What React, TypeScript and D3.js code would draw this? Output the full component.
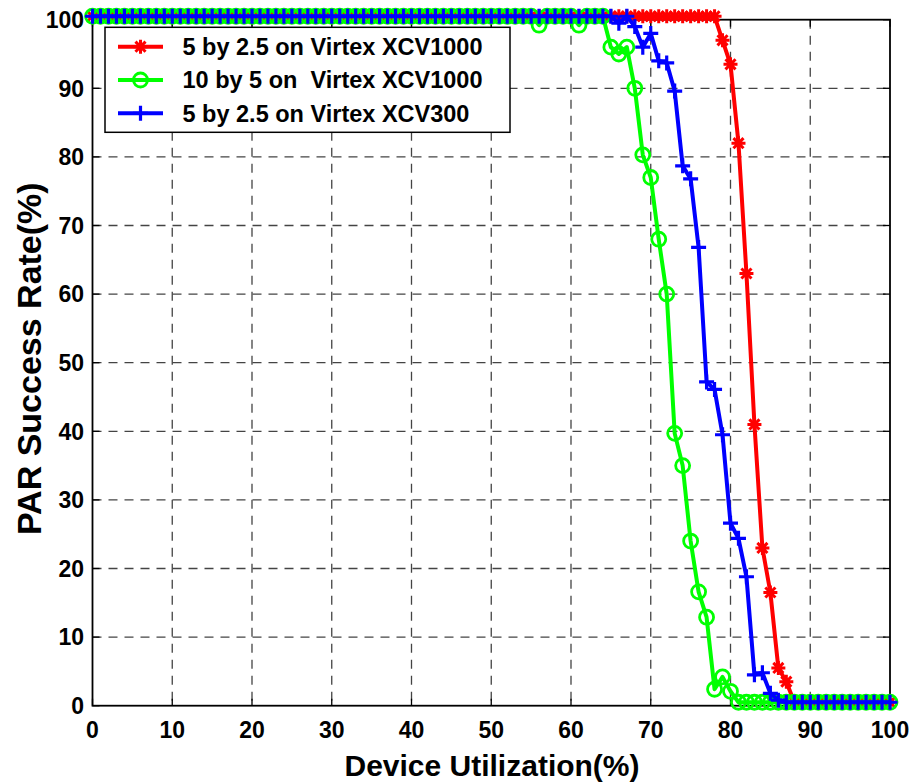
import React from "react";
import * as d3 from "d3";

const W = 917;
const H = 784;

const xTicks = [0, 10, 20, 30, 40, 50, 60, 70, 80, 90, 100];
const yTicks = [0, 10, 20, 30, 40, 50, 60, 70, 80, 90, 100];

// utilization 0..100 step 1
const utilization = d3.range(0, 101);

// red: 5 by 2.5 on Virtex XCV1000 (values 79..87)
const redDrop = [97, 93.5, 82, 63, 41, 23, 16.5, 5.5, 3.5];
// green: 10 by 5 on Virtex XCV1000 (values 65..80)
const greenDrop = [96, 95, 96, 90, 80.3, 77, 68, 60, 39.7, 35, 24, 16.6, 12.9, 2.4, 4.2, 2.1];
// blue: 5 by 2.5 on Virtex XCV300 (values 66..86)
const blueDrop = [99.5, 100.5, 99, 96, 98, 94, 93.7, 89.6, 78.7, 76.8, 66.8, 47.2, 46.1, 39.5, 26.6, 24.4, 18.8, 4.5, 4.8, 1.8, 0.8];

const TOP = 100.5;
const BOT = 0.5;

const redValues = utilization.map((u) =>
  u < 79 ? TOP : u <= 87 ? redDrop[u - 79] : BOT
);
const greenValues = utilization.map((u) => {
  if (u === 56 || u === 61) return 99.2;
  if (u < 65) return TOP;
  if (u <= 80) return greenDrop[u - 65];
  return BOT;
});
const blueValues = utilization.map((u) =>
  u < 66 ? TOP : u <= 86 ? blueDrop[u - 66] : BOT
);

const seriesNames = [
  "5 by 2.5 on Virtex XCV1000",
  "10 by 5 on\u00A0 Virtex XCV1000",
  "5 by 2.5 on Virtex XCV300",
];
const seriesColors = ["#ff0000", "#00ff00", "#0000ff"];
const seriesMarkers = ["asterisk", "circle", "plus"];
const seriesValues = [redValues, greenValues, blueValues];

const M = { left: 92.5, right: 890, top: 19.7, bottom: 705.7 };

function Marker({ type, x, y, color }: { type: string; x: number; y: number; color: string }) {
  if (type === "circle") {
    return <circle cx={x} cy={y} r={7} fill="none" stroke={color} strokeWidth={2.8} />;
  }
  if (type === "plus") {
    const s = 7.5;
    return (
      <path
        d={`M${x - s},${y}H${x + s}M${x},${y - s}V${y + s}`}
        stroke={color}
        strokeWidth={3.2}
        fill="none"
      />
    );
  }
  const s = 7;
  const d2 = s * 0.72;
  return (
    <path
      d={`M${x - s},${y}H${x + s}M${x},${y - s}V${y + s}M${x - d2},${y - d2}L${x + d2},${y + d2}M${x - d2},${y + d2}L${x + d2},${y - d2}`}
      stroke={color}
      strokeWidth={3}
      fill="none"
    />
  );
}

export default function App() {
  const x = d3.scaleLinear().domain([0, 100]).range([M.left, M.right]);
  const y = d3.scaleLinear().domain([0, 100]).range([M.bottom, M.top]);
  const line = d3
    .line<[number, number]>()
    .x((d) => x(d[0]))
    .y((d) => y(d[1]));

  const font = "'Liberation Sans', Arial, sans-serif";

  return (
    <svg width={W} height={H} style={{ position: "absolute", left: 0, top: 0, background: "#fff" }}>
      <rect x={0} y={0} width={W} height={H} fill="#fff" />
      {/* grid */}
      {xTicks.filter((t) => t > 0 && t < 100).map((t) => (
        <line key={"gx" + t} x1={x(t)} x2={x(t)} y1={M.top} y2={M.bottom}
          stroke="#444" strokeWidth={1.3} strokeDasharray="9,7" />
      ))}
      {yTicks.filter((t) => t > 0 && t < 100).map((t) => (
        <line key={"gy" + t} y1={y(t)} y2={y(t)} x1={M.left} x2={M.right}
          stroke="#444" strokeWidth={1.3} strokeDasharray="9,7" />
      ))}
      {/* ticks */}
      {xTicks.map((t) => (
        <g key={"tx" + t}>
          <line x1={x(t)} x2={x(t)} y1={M.bottom} y2={M.bottom - 7} stroke="#000" strokeWidth={1.3} />
          <line x1={x(t)} x2={x(t)} y1={M.top} y2={M.top + 7} stroke="#000" strokeWidth={1.3} />
          <text x={x(t)} y={738} textAnchor="middle" fontFamily={font} fontWeight="bold" fontSize={23}>
            {t}
          </text>
        </g>
      ))}
      {yTicks.map((t) => (
        <g key={"ty" + t}>
          <line y1={y(t)} y2={y(t)} x1={M.left} x2={M.left + 7} stroke="#000" strokeWidth={1.3} />
          <line y1={y(t)} y2={y(t)} x1={M.right} x2={M.right - 7} stroke="#000" strokeWidth={1.3} />
          <text x={84} y={y(t)} dy="0.36em" textAnchor="end" fontFamily={font} fontWeight="bold" fontSize={23}>
            {t}
          </text>
        </g>
      ))}
      {/* axes box */}
      <rect x={M.left} y={M.top} width={M.right - M.left} height={M.bottom - M.top}
        fill="none" stroke="#000" strokeWidth={1.8} />
      {/* series */}
      {seriesValues.map((vals, i) => {
        const pts = utilization.map((u, k) => [u, vals[k]] as [number, number]);
        return (
          <g key={"s" + i}>
            <path d={line(pts) || ""} fill="none" stroke={seriesColors[i]} strokeWidth={4} strokeLinejoin="round" />
            {pts.map((p, k) => (
              <Marker key={k} type={seriesMarkers[i]} x={x(p[0])} y={y(p[1])} color={seriesColors[i]} />
            ))}
          </g>
        );
      })}
      {/* legend */}
      <rect x={105} y={27.3} width={405} height={105} fill="#fff" stroke="#000" strokeWidth={1.5} />
      {seriesNames.map((name, i) => {
        const ly = 46.7 + i * 33.3;
        return (
          <g key={"l" + i}>
            <line x1={118} x2={163} y1={ly} y2={ly} stroke={seriesColors[i]} strokeWidth={4} />
            <Marker type={seriesMarkers[i]} x={140.5} y={ly} color={seriesColors[i]} />
            <text x={182.5} y={ly} dy="0.36em" fontFamily={font} fontWeight="bold" fontSize={23.5}
              style={{ whiteSpace: "pre" }}>
              {name}
            </text>
          </g>
        );
      })}
      {/* axis labels */}
      <text x={492} y={776} textAnchor="middle" fontFamily={font} fontWeight="bold" fontSize={30}>
        Device Utilization(%)
      </text>
      <text transform={`translate(41,${(M.top + M.bottom) / 2 - 4}) rotate(-90)`} textAnchor="middle"
        fontFamily={font} fontWeight="bold" fontSize={34}>
        PAR Success Rate(%)
      </text>
    </svg>
  );
}
